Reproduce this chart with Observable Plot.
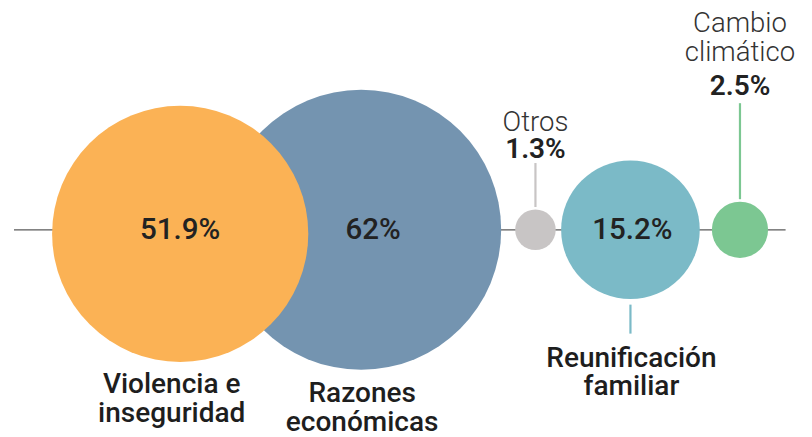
<!DOCTYPE html>
<html>
<head>
<meta charset="utf-8">
<script src="https://cdn.jsdelivr.net/npm/d3@7"></script>
<script src="https://cdn.jsdelivr.net/npm/@observablehq/plot@0.6"></script>
<style>
  html, body { margin: 0; padding: 0; background: #fff; }
  #chart svg { display: block; }
</style>
</head>
<body>
<div id="chart"></div>
<script>
// ---- Data ----
const categories = ["Violencia e inseguridad", "Razones económicas", "Otros", "Reunificación familiar", "Cambio climático"];
const nameLabels = ["Violencia e\ninseguridad", "Razones\neconómicas", "Otros", "Reunificación\nfamiliar", "Cambio\nclimático"];
const values = [51.9, 62, 1.3, 15.2, 2.5];
const valueLabels = ["51.9%", "62%", "1.3%", "15.2%", "2.5%"];
const colors = ["#fbb255", "#7494b0", "#c8c5c5", "#7bbac7", "#7cc792"];

// ---- Layout ----
const W = 812, H = 437, axisY = 229.3;
const rScale = Plot.scale({r: {type: "sqrt", domain: [0, 62], range: [0, 140]}});
const gaps = [-87.1, 14, 5.4, 12.1];   // edge-to-edge gaps between neighbouring circles
const startLeft = 51.6;
const rows = [];
let edge = startLeft;
values.forEach((v, i) => {
  const r = rScale.apply(v);
  if (i > 0) edge += gaps[i - 1];
  const cx = edge + r;
  edge = cx + r;
  rows.push({i, category: categories[i], name: nameLabels[i], value: v, label: valueLabels[i], color: colors[i], cx, r,
             cy: axisY + (i === 0 ? 4 : 0)});
});
const [orange, blue, gray, teal, green] = rows;

// inner value labels (big circles)
const inner = [
  {text: orange.label, x: orange.cx, y: axisY},
  {text: blue.label, x: blue.cx + 12, y: axisY},
  {text: teal.label, x: teal.cx + 2, y: axisY}
];
// names below
const below = [
  {text: orange.name, x: orange.cx - 8.5, y: orange.cy + orange.r + 60},
  {text: blue.name, x: blue.cx + 1, y: blue.cy + blue.r + 61},
  {text: teal.name, x: teal.cx + 1, y: teal.cy + teal.r + 96}
];
// names above (light)
const aboveName = [
  {text: gray.name, x: gray.cx, y: axisY - gray.r - 79},
  {text: green.name, x: green.cx, y: axisY - green.r - 141}
];
const aboveValue = [
  {text: gray.label, x: gray.cx, y: axisY - gray.r - 52},
  {text: green.label, x: green.cx, y: axisY - green.r - 107}
];
const connectors = [
  {x: gray.cx, y1: axisY - gray.r - 2, y2: axisY - gray.r - 46, color: "#c8c5c5"},
  {x: green.cx, y1: axisY - green.r - 2, y2: axisY - green.r - 98, color: green.color},
  {x: teal.cx, y1: axisY + teal.r + 6, y2: axisY + teal.r + 35, color: teal.color}
];

const font = "Roboto, 'Noto Sans', sans-serif";
const drawOrder = [blue, orange, gray, teal, green];

const chart = Plot.plot({
  width: W, height: H,
  margin: 0,
  x: {type: "linear", domain: [0, W], range: [0, W], axis: null},
  y: {type: "linear", domain: [0, H], range: [0, H], axis: null},
  r: {type: "sqrt", domain: [0, 62], range: [0, 140]},
  style: {fontFamily: font, background: "#fff"},
  marks: [
    Plot.ruleY([axisY], {x1: 14, x2: green.cx + green.r + 18, stroke: "#5a5a5a", strokeWidth: 1.2}),
    Plot.ruleX(connectors, {x: "x", y1: "y1", y2: "y2", stroke: "color", strokeWidth: 2.2}),
    Plot.dot(drawOrder, {x: "cx", y: "cy", r: "value", fill: "color", stroke: null}),
    Plot.text(inner, {x: "x", y: "y", text: "text", fontSize: 29.5, fontWeight: 500, fill: "#222", textAnchor: "middle"}),
    Plot.text(below, {x: "x", y: "y", text: "text", fontSize: 28, fontWeight: 500, fill: "#1e1e1e", lineAnchor: "bottom", lineHeight: 1.02, textAnchor: "middle"}),
    Plot.text(aboveName, {x: "x", y: "y", text: "text", fontSize: 27.5, fontWeight: 300, fill: "#333", lineAnchor: "bottom", lineHeight: 1.04, textAnchor: "middle"}),
    Plot.text(aboveValue, {x: "x", y: "y", text: "text", fontSize: 28, fontWeight: 600, fill: "#222", lineAnchor: "bottom", textAnchor: "middle"})
  ]
});
document.getElementById("chart").append(chart);
</script>
</body>
</html>
